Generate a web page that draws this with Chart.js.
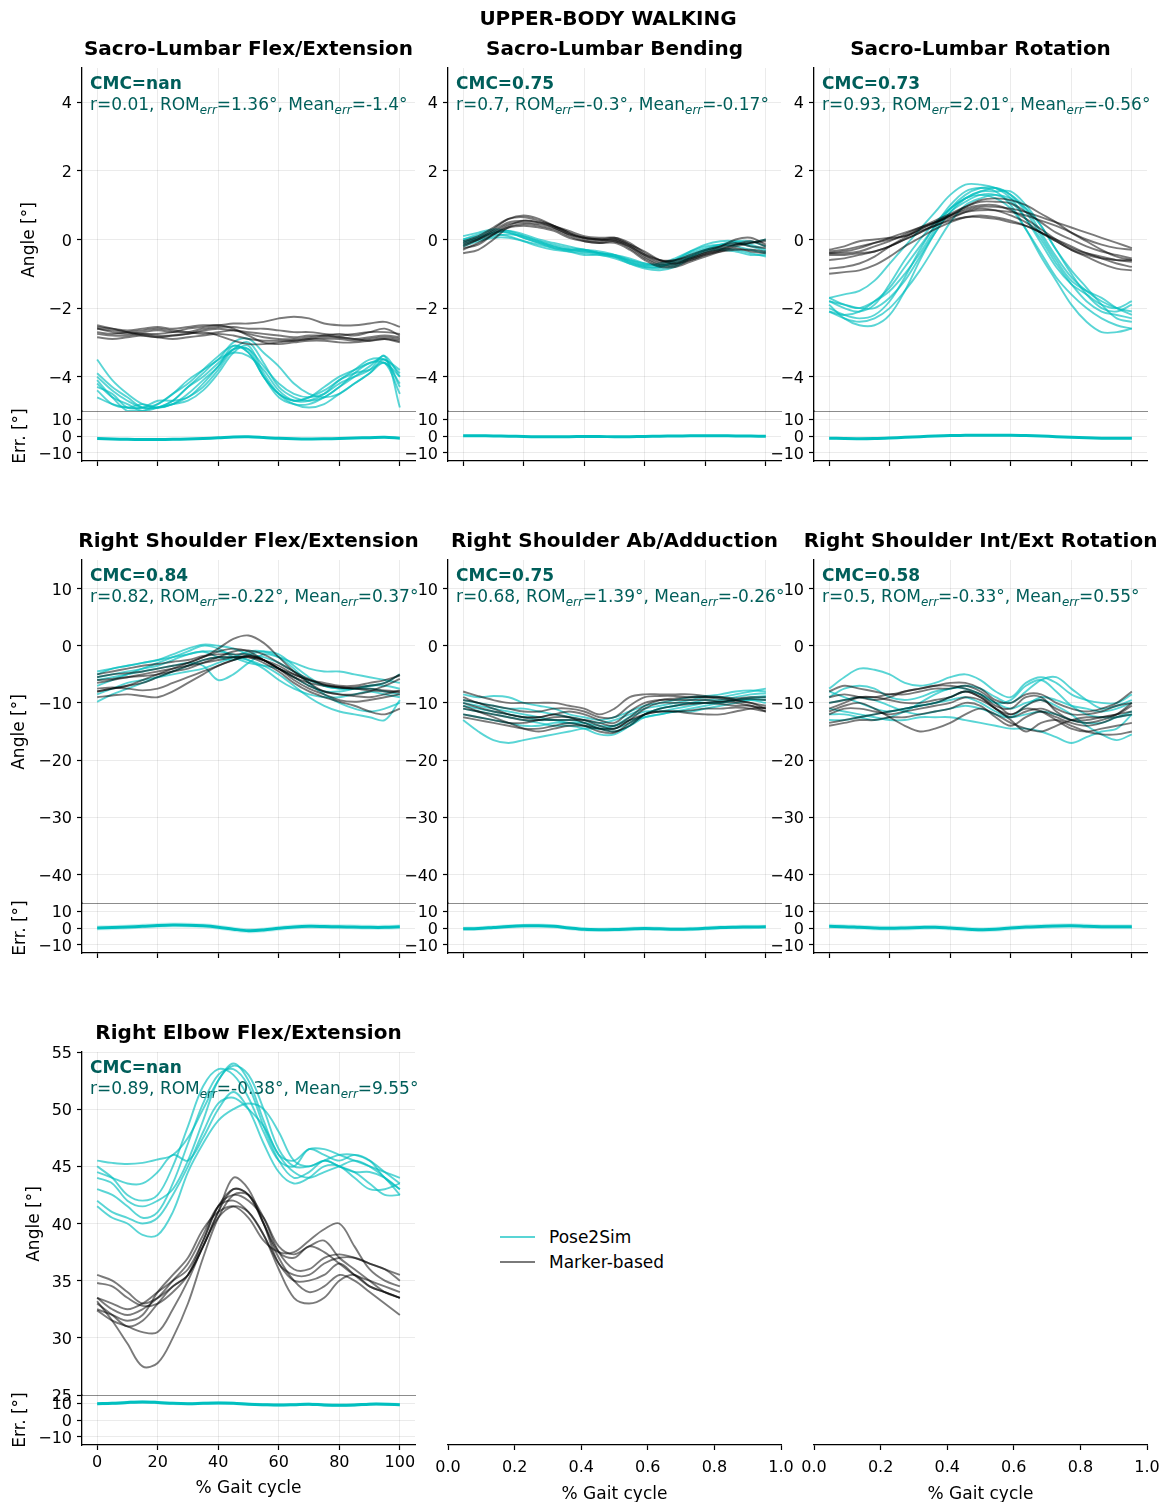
<!DOCTYPE html>
<html><head><meta charset="utf-8">
<script src="https://cdn.jsdelivr.net/npm/chart.js@4.4.0/dist/chart.umd.min.js"></script>
<style>
body{margin:0;background:#fff;width:1170px;height:1502px;position:relative;overflow:hidden;font-family:'DejaVu Sans',sans-serif;}
canvas{position:absolute;}
.t{position:absolute;white-space:nowrap;color:#000;}
.ann{color:rgb(0,94,90);font-size:17px;}
.sb{font-size:0.7em;font-style:italic;position:relative;top:0.3em;}
</style></head><body>
<script>
// ---------------- DATA ----------------
const PCT = [0,5,10,15,20,25,30,35,40,45,50,55,60,65,70,75,80,85,90,95,100];
const X_TICKS = [0,20,40,60,80,100];
const X_TICKS_EMPTY = [0,0.2,0.4,0.6,0.8,1.0];
const Y_TICKS_ROW1 = [-4,-2,0,2,4];
const Y_TICKS_ROW2 = [-40,-30,-20,-10,0,10];
const Y_TICKS_ROW3 = [25,30,35,40,45,50,55];
const Y_TICKS_ERR = [-10,0,10];

const TITLES = ['Sacro-Lumbar Flex/Extension','Sacro-Lumbar Bending','Sacro-Lumbar Rotation',
  'Right Shoulder Flex/Extension','Right Shoulder Ab/Adduction','Right Shoulder Int/Ext Rotation',
  'Right Elbow Flex/Extension'];
const CMC = ['nan','0.75','0.73','0.84','0.75','0.58','nan'];
const R_VALS = ['0.01','0.7','0.93','0.82','0.68','0.5','0.89'];
const ROM_ERR = ['1.36','-0.3','2.01','-0.22','1.39','-0.33','-0.38'];
const MEAN_ERR = ['-1.4','-0.17','-0.56','0.37','-0.26','0.55','9.55'];
const ERR_SD = [0.5,0.4,0.6,1.5,1.3,1.5,1.0];

// Sacro-Lumbar Flex/Extension
const slfePose = [
 [-3.5,-4.1,-4.5,-4.8,-4.9,-4.8,-4.5,-4.1,-3.7,-3.1,-3.3,-4.0,-4.5,-4.7,-4.6,-4.4,-4.1,-3.8,-3.5,-3.5,-3.8],
 [-4.0,-4.4,-4.7,-4.9,-4.9,-4.8,-4.6,-4.3,-3.8,-3.2,-3.0,-3.6,-4.3,-4.6,-4.7,-4.6,-4.3,-4.0,-3.7,-3.4,-4.0],
 [-4.2,-4.6,-4.8,-5.0,-4.9,-4.7,-4.3,-4.0,-3.6,-3.2,-3.2,-3.7,-4.2,-4.5,-4.6,-4.5,-4.2,-4.0,-3.8,-3.4,-4.9],
 [-4.3,-4.5,-4.9,-4.9,-4.8,-4.5,-4.1,-3.8,-3.5,-3.0,-2.9,-3.3,-3.7,-4.2,-4.5,-4.6,-4.5,-4.2,-3.9,-3.6,-4.2],
 [-4.4,-4.8,-4.9,-4.8,-4.9,-4.8,-4.7,-4.4,-3.9,-3.3,-3.1,-3.9,-4.5,-4.8,-4.9,-4.8,-4.5,-4.2,-3.9,-3.5,-4.3],
 [-4.1,-4.6,-5.0,-5.0,-4.8,-4.5,-4.2,-3.8,-3.4,-3.1,-3.3,-4.0,-4.6,-4.8,-4.8,-4.6,-4.3,-3.9,-3.6,-3.6,-4.0],
 [-4.6,-4.8,-4.9,-4.9,-4.7,-4.7,-4.6,-4.2,-3.7,-3.2,-3.2,-4.0,-4.5,-4.7,-4.6,-4.3,-4.0,-3.8,-3.6,-3.5,-3.9],
 [-3.9,-4.3,-4.6,-4.9,-4.9,-4.7,-4.3,-3.9,-3.5,-3.3,-3.4,-3.8,-4.4,-4.7,-4.7,-4.5,-4.1,-3.9,-3.8,-3.6,-4.5]];
const slfeMark = [
 [-2.55,-2.6,-2.65,-2.6,-2.55,-2.6,-2.55,-2.5,-2.5,-2.45,-2.45,-2.4,-2.3,-2.25,-2.3,-2.45,-2.5,-2.5,-2.45,-2.4,-2.55],
 [-2.6,-2.7,-2.75,-2.7,-2.65,-2.7,-2.7,-2.6,-2.55,-2.55,-2.6,-2.6,-2.65,-2.7,-2.7,-2.75,-2.8,-2.75,-2.7,-2.7,-2.75],
 [-2.7,-2.75,-2.7,-2.65,-2.6,-2.65,-2.7,-2.75,-2.7,-2.65,-2.7,-2.75,-2.8,-2.85,-2.8,-2.8,-2.85,-2.9,-2.85,-2.8,-2.85],
 [-2.85,-2.9,-2.85,-2.8,-2.85,-2.9,-2.85,-2.8,-2.75,-2.8,-2.9,-2.95,-2.95,-2.95,-2.9,-2.9,-2.9,-2.95,-2.9,-2.85,-2.9],
 [-2.6,-2.65,-2.7,-2.75,-2.8,-2.8,-2.75,-2.7,-2.8,-2.95,-3.05,-3.05,-3.0,-2.95,-2.9,-2.85,-2.85,-2.9,-2.95,-2.9,-2.95],
 [-2.5,-2.6,-2.7,-2.8,-2.85,-2.8,-2.75,-2.65,-2.6,-2.65,-2.75,-2.85,-2.9,-2.9,-2.85,-2.8,-2.75,-2.8,-2.7,-2.6,-2.8],
 [-2.75,-2.8,-2.8,-2.75,-2.75,-2.7,-2.6,-2.55,-2.5,-2.6,-2.8,-3.0,-3.05,-3.0,-2.95,-2.95,-3.0,-3.0,-2.95,-2.9,-3.0]];
const slfeErr = [-1.5,-1.8,-2.0,-2.1,-2.1,-2.0,-1.8,-1.5,-1.1,-0.6,-0.5,-0.9,-1.4,-1.7,-1.8,-1.7,-1.5,-1.2,-1.0,-0.8,-1.3];

// Sacro-Lumbar Bending
const slbPose = [
 [0.0,0.15,0.25,0.2,0.05,-0.1,-0.2,-0.3,-0.35,-0.4,-0.5,-0.65,-0.75,-0.7,-0.55,-0.35,-0.2,-0.15,-0.2,-0.3,-0.4],
 [-0.15,0.0,0.1,0.15,0.1,-0.05,-0.2,-0.3,-0.35,-0.4,-0.45,-0.6,-0.75,-0.8,-0.65,-0.45,-0.3,-0.2,-0.15,-0.1,0.0],
 [-0.05,0.05,0.15,0.1,-0.05,-0.2,-0.3,-0.35,-0.4,-0.45,-0.55,-0.7,-0.8,-0.85,-0.75,-0.5,-0.3,-0.25,-0.3,-0.4,-0.5],
 [0.1,0.2,0.3,0.25,0.1,-0.05,-0.15,-0.25,-0.3,-0.35,-0.45,-0.65,-0.8,-0.8,-0.6,-0.35,-0.15,-0.05,-0.05,-0.15,-0.3],
 [-0.2,-0.05,0.05,0.05,-0.05,-0.15,-0.25,-0.3,-0.3,-0.4,-0.5,-0.7,-0.85,-0.9,-0.8,-0.55,-0.35,-0.3,-0.35,-0.45,-0.45],
 [0.0,0.1,0.2,0.2,0.05,-0.1,-0.25,-0.35,-0.45,-0.45,-0.5,-0.6,-0.7,-0.75,-0.6,-0.4,-0.25,-0.15,-0.1,-0.2,-0.35],
 [-0.1,0.05,0.2,0.25,0.15,0.0,-0.1,-0.2,-0.3,-0.4,-0.45,-0.55,-0.7,-0.75,-0.7,-0.5,-0.3,-0.15,-0.05,-0.05,-0.2]];
const slbMark = [
 [-0.1,0.05,0.3,0.6,0.7,0.6,0.4,0.25,0.1,0.05,0.05,-0.15,-0.45,-0.65,-0.6,-0.45,-0.3,-0.2,-0.1,-0.2,-0.25],
 [-0.2,0.0,0.25,0.5,0.55,0.5,0.35,0.15,0.0,-0.05,0.0,-0.2,-0.5,-0.7,-0.7,-0.55,-0.4,-0.25,-0.15,-0.1,-0.05],
 [-0.4,-0.3,0.0,0.35,0.45,0.4,0.3,0.1,-0.05,-0.1,-0.05,-0.25,-0.55,-0.75,-0.75,-0.6,-0.45,-0.35,-0.3,-0.3,-0.35],
 [-0.15,0.0,0.2,0.45,0.5,0.45,0.35,0.15,0.05,0.0,0.05,-0.1,-0.4,-0.6,-0.65,-0.55,-0.4,-0.3,-0.2,-0.1,0.0],
 [-0.3,-0.1,0.15,0.35,0.4,0.35,0.25,0.05,-0.05,-0.1,-0.1,-0.3,-0.6,-0.8,-0.8,-0.65,-0.5,-0.35,-0.25,-0.35,-0.4],
 [-0.05,0.1,0.35,0.6,0.65,0.55,0.4,0.2,0.05,0.0,-0.05,-0.2,-0.45,-0.6,-0.6,-0.5,-0.35,-0.2,0.0,0.05,-0.15],
 [-0.25,-0.15,0.15,0.4,0.55,0.5,0.4,0.2,0.05,0.0,0.0,-0.15,-0.35,-0.6,-0.7,-0.6,-0.45,-0.3,-0.15,-0.05,-0.2]];
const slbErr = [0.2,0.15,0.05,-0.1,-0.3,-0.45,-0.45,-0.4,-0.35,-0.35,-0.4,-0.4,-0.3,-0.1,0.0,0.1,0.15,0.1,0.05,-0.05,-0.1];

// Sacro-Lumbar Rotation
const slrPose = [
 [-1.7,-1.6,-1.5,-1.2,-0.7,-0.2,0.3,0.8,1.3,1.6,1.6,1.5,1.2,0.6,-0.1,-0.8,-1.3,-1.6,-1.9,-2.0,-1.8],
 [-1.8,-2.0,-2.1,-1.9,-1.3,-0.6,0.0,0.5,0.9,1.2,1.4,1.5,1.3,0.8,0.1,-0.6,-1.2,-1.5,-1.7,-2.0,-2.2],
 [-2.0,-2.2,-2.3,-2.2,-1.8,-1.1,-0.3,0.4,0.9,1.2,1.3,1.2,0.9,0.3,-0.4,-1.1,-1.6,-2.0,-2.3,-2.5,-2.6],
 [-1.9,-2.3,-2.5,-2.5,-2.2,-1.5,-0.6,0.2,0.8,1.1,1.3,1.3,1.1,0.6,0.0,-0.7,-1.3,-1.8,-2.1,-2.2,-2.3],
 [-2.1,-2.2,-2.1,-1.8,-1.4,-0.8,-0.2,0.4,1.0,1.4,1.5,1.4,1.0,0.3,-0.5,-1.2,-1.9,-2.4,-2.7,-2.7,-2.6],
 [-1.7,-1.9,-2.0,-1.8,-1.5,-1.0,-0.4,0.3,0.9,1.3,1.5,1.5,1.3,0.9,0.2,-0.5,-1.1,-1.5,-1.8,-2.0,-2.1],
 [-2.1,-2.3,-2.4,-2.3,-2.0,-1.5,-0.9,-0.2,0.5,1.0,1.2,1.3,1.2,0.9,0.4,-0.3,-1.0,-1.6,-2.0,-2.1,-1.9],
 [-1.8,-1.9,-2.0,-2.0,-1.7,-1.2,-0.5,0.2,0.8,1.2,1.4,1.4,1.4,1.0,0.4,-0.3,-0.9,-1.4,-1.9,-2.3,-2.4]];
const slrMark = [
 [-0.35,-0.3,-0.2,-0.1,0.0,0.1,0.3,0.5,0.7,0.85,0.95,0.95,0.9,0.8,0.65,0.5,0.35,0.2,0.05,-0.1,-0.25],
 [-0.4,-0.4,-0.35,-0.2,-0.05,0.15,0.35,0.55,0.75,0.95,1.1,1.1,1.05,0.8,0.5,0.2,0.0,-0.2,-0.35,-0.45,-0.55],
 [-0.45,-0.45,-0.4,-0.35,-0.2,0.0,0.2,0.4,0.6,0.8,0.9,0.85,0.7,0.5,0.2,-0.05,-0.3,-0.45,-0.55,-0.6,-0.65],
 [-0.85,-0.8,-0.7,-0.5,-0.2,0.05,0.3,0.5,0.7,0.9,1.0,1.0,0.85,0.6,0.3,0.0,-0.25,-0.4,-0.5,-0.6,-0.6],
 [-1.0,-0.95,-0.9,-0.75,-0.5,-0.2,0.05,0.3,0.5,0.65,0.7,0.65,0.55,0.4,0.2,0.0,-0.2,-0.4,-0.55,-0.7,-0.8],
 [-0.3,-0.2,-0.05,0.0,0.05,0.1,0.25,0.4,0.55,0.65,0.65,0.6,0.5,0.4,0.2,-0.05,-0.3,-0.5,-0.7,-0.85,-0.9],
 [-0.6,-0.55,-0.45,-0.35,-0.2,0.0,0.2,0.45,0.7,0.95,1.15,1.2,1.15,1.0,0.75,0.5,0.2,-0.05,-0.3,-0.5,-0.6],
 [-0.4,-0.35,-0.25,-0.1,0.05,0.2,0.35,0.5,0.65,0.8,0.85,0.85,0.8,0.7,0.55,0.4,0.2,0.0,-0.15,-0.25,-0.3]];
const slrErr = [-1.3,-1.5,-1.6,-1.5,-1.2,-0.8,-0.4,0.0,0.3,0.4,0.5,0.5,0.5,0.3,0.0,-0.4,-0.8,-1.1,-1.3,-1.4,-1.4];

// Right Shoulder Flex/Extension
const rsfePose = [
 [-5.0,-4.0,-3.5,-3.0,-2.5,-1.5,-0.5,0.2,0.0,-0.5,-1.5,-2.0,-3.0,-4.5,-6.0,-7.0,-7.5,-7.5,-7.0,-6.5,-5.0],
 [-9.8,-8.5,-7.5,-6.5,-5.5,-4.5,-3.5,-2.5,-2.0,-2.0,-2.5,-3.5,-5.0,-7.0,-9.0,-10.5,-11.5,-12.0,-12.5,-13.0,-9.5],
 [-6.0,-5.5,-5.0,-4.5,-4.0,-3.5,-3.0,-3.5,-6.0,-5.0,-3.0,-1.5,-2.0,-3.0,-4.0,-4.5,-4.5,-5.0,-5.5,-6.0,-6.5],
 [-7.0,-6.0,-5.0,-4.0,-3.5,-2.5,-1.5,-1.0,-1.0,-1.5,-2.5,-4.0,-6.0,-7.5,-8.5,-9.0,-9.0,-8.5,-8.0,-8.5,-9.0],
 [-8.5,-7.5,-6.5,-6.0,-5.5,-5.0,-4.5,-4.0,-3.0,-2.0,-1.0,-1.0,-2.0,-4.0,-6.5,-8.5,-10.0,-11.0,-11.5,-11.0,-10.0],
 [-5.5,-5.0,-4.5,-4.0,-3.0,-2.0,-1.0,0.0,-0.5,-2.0,-3.0,-3.5,-4.0,-5.5,-7.0,-8.0,-8.0,-7.5,-7.0,-7.0,-7.5],
 [-4.5,-4.0,-3.5,-3.0,-2.5,-2.0,-1.5,-1.0,-2.0,-2.5,-1.5,-1.0,-1.5,-3.5,-5.5,-7.0,-7.5,-7.5,-7.5,-8.0,-8.5]];
const rsfeMark = [
 [-8.0,-7.5,-7.0,-6.0,-5.0,-4.0,-3.0,-2.0,-0.5,1.2,1.8,0.5,-2.0,-4.5,-6.5,-8.0,-8.5,-8.5,-8.0,-7.0,-5.8],
 [-5.0,-4.5,-4.0,-3.5,-3.2,-2.8,-2.5,-1.8,-1.5,-1.5,-1.5,-2.5,-4.0,-5.5,-6.5,-7.0,-7.3,-7.3,-7.0,-6.5,-5.0],
 [-6.0,-5.8,-5.5,-5.3,-5.0,-4.5,-4.0,-3.0,-2.0,-1.0,-0.8,-1.5,-3.0,-4.5,-5.8,-6.8,-7.2,-7.5,-7.5,-7.8,-8.0],
 [-7.5,-7.3,-7.5,-7.8,-7.5,-6.5,-5.5,-4.5,-3.5,-2.5,-1.8,-2.5,-4.0,-6.0,-7.5,-8.5,-9.5,-9.8,-9.5,-9.0,-8.5],
 [-9.0,-8.7,-8.5,-8.8,-9.0,-8.0,-6.5,-5.0,-3.5,-2.5,-2.0,-3.0,-4.5,-6.5,-8.0,-9.0,-9.8,-10.5,-11.5,-12.0,-11.0],
 [-6.5,-6.0,-5.5,-5.0,-4.5,-4.0,-3.5,-3.0,-2.5,-2.0,-2.0,-2.5,-3.5,-5.0,-6.0,-6.8,-7.3,-7.5,-7.8,-8.0,-8.2],
 [-5.5,-5.0,-4.8,-4.5,-4.0,-3.5,-3.0,-2.0,-1.0,-0.5,-1.0,-2.5,-4.0,-5.0,-6.0,-6.5,-7.0,-7.0,-6.5,-6.0,-5.2],
 [-8.0,-7.5,-7.0,-6.5,-5.5,-4.5,-3.5,-2.5,-2.0,-2.0,-1.8,-2.5,-4.0,-5.5,-7.0,-8.0,-8.5,-8.8,-9.0,-8.5,-7.8]];
const rsfeErr = [0.0,0.3,0.6,1.0,1.5,1.8,1.7,1.3,0.5,-0.7,-1.6,-1.2,-0.2,0.6,1.0,0.9,0.7,0.6,0.4,0.4,0.8];

// Right Shoulder Ab/Adduction
const rsaaPose = [
 [-8.5,-9.0,-8.8,-9.0,-10.0,-10.5,-11.0,-12.0,-12.5,-13.0,-12.5,-11.5,-10.5,-10.0,-9.5,-9.0,-8.8,-8.5,-8.0,-7.8,-8.0],
 [-13.0,-15.0,-16.5,-17.0,-16.5,-16.0,-15.5,-15.0,-14.5,-14.5,-14.5,-13.5,-12.0,-11.0,-10.5,-10.0,-9.5,-9.5,-9.0,-8.5,-8.3],
 [-10.0,-10.5,-11.0,-11.5,-12.0,-12.5,-13.0,-13.0,-13.5,-14.5,-15.0,-14.0,-12.5,-12.0,-11.5,-11.5,-11.0,-10.5,-10.0,-9.5,-9.5],
 [-11.0,-11.5,-12.0,-12.5,-13.0,-13.5,-14.0,-14.0,-14.5,-15.5,-15.5,-14.0,-12.0,-11.0,-10.5,-10.0,-10.0,-10.0,-9.5,-9.0,-8.8],
 [-9.5,-10.0,-10.5,-11.0,-11.0,-11.5,-12.0,-12.5,-13.0,-13.5,-13.0,-12.0,-11.0,-10.5,-10.0,-9.5,-9.0,-9.0,-8.5,-8.0,-7.5],
 [-12.0,-12.5,-13.0,-13.5,-14.0,-14.0,-13.5,-13.5,-14.0,-14.5,-14.0,-12.5,-11.5,-11.5,-11.0,-10.5,-10.0,-9.8,-9.5,-9.3,-9.0],
 [-10.5,-11.0,-11.5,-12.0,-12.5,-13.0,-13.0,-13.5,-13.5,-14.0,-14.0,-13.0,-12.5,-12.0,-11.5,-11.0,-10.5,-10.0,-9.5,-9.5,-10.0]];
const rsaaMark = [
 [-8.0,-8.8,-9.5,-10.0,-10.0,-10.0,-10.0,-10.5,-11.0,-12.0,-11.0,-9.0,-8.5,-8.5,-8.5,-8.5,-8.8,-9.0,-9.5,-10.0,-10.5],
 [-9.0,-10.0,-10.5,-11.0,-11.5,-11.5,-11.0,-11.0,-11.5,-12.5,-12.5,-10.5,-9.0,-8.8,-8.8,-9.0,-9.0,-9.0,-9.2,-9.0,-9.0],
 [-10.0,-10.8,-11.5,-12.0,-12.5,-12.5,-12.0,-11.5,-12.0,-13.0,-13.5,-11.5,-10.0,-9.5,-9.5,-9.5,-9.5,-9.8,-10.0,-10.5,-11.0],
 [-11.0,-11.5,-12.0,-12.5,-13.0,-13.0,-12.5,-12.5,-13.0,-14.0,-14.5,-13.0,-11.0,-10.0,-10.0,-10.0,-10.0,-10.2,-10.5,-10.5,-11.5],
 [-12.5,-13.0,-13.5,-14.0,-14.5,-14.5,-14.0,-13.5,-14.0,-15.0,-15.2,-13.5,-12.0,-11.5,-11.5,-11.3,-11.0,-11.0,-10.8,-11.0,-11.5],
 [-10.5,-11.5,-12.5,-13.5,-14.5,-15.0,-14.5,-14.0,-14.0,-14.5,-14.5,-13.0,-12.0,-11.5,-11.5,-11.8,-12.0,-12.0,-11.5,-11.0,-10.8],
 [-9.5,-10.0,-11.0,-12.0,-12.5,-12.5,-12.0,-12.5,-13.5,-14.5,-15.0,-14.0,-12.0,-11.0,-10.5,-10.2,-10.0,-9.8,-9.5,-9.3,-9.5],
 [-12.0,-12.5,-13.0,-13.5,-13.5,-13.0,-13.0,-13.0,-13.0,-13.5,-14.0,-12.5,-10.5,-9.5,-9.2,-9.0,-9.0,-9.3,-9.7,-10.0,-11.0]];
const rsaaErr = [-0.5,-0.3,0.3,0.9,1.3,1.4,1.0,0.0,-0.8,-1.0,-0.9,-0.6,-0.3,-0.5,-0.7,-0.6,-0.2,0.3,0.5,0.6,0.7];

// Right Shoulder Int/Ext Rotation
const rsrPose = [
 [-7.5,-5.5,-4.0,-4.2,-5.0,-6.5,-7.0,-6.5,-5.5,-5.0,-6.0,-8.0,-9.0,-6.5,-5.5,-6.5,-8.5,-9.5,-10.0,-10.0,-8.5],
 [-9.0,-7.5,-7.0,-7.5,-9.0,-9.5,-9.0,-8.0,-7.5,-7.0,-7.5,-9.0,-10.0,-8.0,-6.0,-5.5,-7.5,-9.5,-11.0,-10.5,-9.5],
 [-12.0,-12.0,-12.5,-13.0,-12.5,-11.5,-10.0,-8.5,-7.5,-7.5,-8.5,-10.0,-9.5,-7.0,-6.0,-8.0,-10.5,-12.0,-12.5,-12.5,-12.0],
 [-11.0,-11.5,-12.0,-12.5,-13.0,-13.0,-12.5,-12.5,-12.5,-13.0,-13.5,-14.0,-14.5,-14.5,-15.0,-16.0,-17.0,-16.0,-15.0,-14.5,-12.0],
 [-8.0,-9.0,-10.0,-11.0,-11.5,-11.0,-10.5,-10.0,-9.0,-8.0,-8.5,-10.0,-11.0,-10.0,-9.5,-10.5,-12.0,-14.0,-15.5,-16.5,-15.5],
 [-10.0,-9.5,-9.0,-9.5,-10.5,-11.5,-12.0,-11.5,-11.0,-10.5,-11.0,-12.0,-12.5,-10.5,-9.0,-9.5,-10.5,-11.0,-11.5,-11.0,-10.0],
 [-13.0,-13.0,-12.5,-12.0,-11.5,-11.0,-10.5,-10.0,-9.5,-9.0,-10.0,-11.5,-12.5,-12.0,-11.5,-12.0,-13.0,-13.5,-13.5,-12.5,-11.5]];
const rsrMark = [
 [-8.0,-7.0,-7.5,-8.0,-8.5,-8.0,-7.5,-7.0,-6.5,-6.5,-7.5,-9.5,-10.0,-8.5,-8.5,-10.0,-11.0,-11.5,-11.0,-10.0,-8.0],
 [-10.0,-9.5,-9.0,-9.0,-8.5,-8.5,-8.0,-7.5,-7.5,-7.0,-8.0,-10.0,-12.0,-10.5,-9.5,-11.0,-12.0,-12.0,-11.5,-10.5,-10.0],
 [-12.0,-11.0,-11.0,-11.5,-12.0,-11.5,-11.0,-10.5,-10.0,-9.0,-9.5,-11.0,-12.5,-11.5,-11.0,-12.0,-13.0,-13.0,-12.5,-12.0,-11.5],
 [-14.0,-13.5,-13.0,-13.0,-12.5,-12.5,-12.0,-11.5,-11.0,-10.0,-10.5,-12.5,-14.0,-12.5,-11.5,-12.5,-13.5,-14.0,-13.5,-12.5,-12.0],
 [-11.5,-10.5,-10.0,-11.0,-12.5,-14.0,-15.0,-14.5,-13.5,-12.0,-11.0,-12.0,-13.5,-14.5,-15.0,-14.0,-13.0,-12.5,-12.5,-12.0,-10.5],
 [-13.5,-13.0,-12.5,-12.0,-11.5,-11.0,-10.5,-10.0,-9.0,-8.0,-9.0,-11.0,-13.0,-15.0,-13.5,-13.0,-14.0,-15.0,-15.5,-15.5,-15.0],
 [-9.0,-8.5,-9.0,-9.5,-9.0,-8.0,-7.5,-7.0,-7.0,-7.5,-8.5,-10.5,-11.0,-9.0,-9.0,-11.5,-13.0,-13.5,-13.0,-12.0,-10.0],
 [-11.0,-10.0,-9.0,-9.0,-9.5,-10.0,-10.0,-9.5,-9.0,-8.0,-9.0,-11.0,-12.0,-11.0,-11.5,-13.0,-14.5,-15.0,-14.5,-14.0,-13.5]];
const rsrErr = [1.0,0.8,0.4,0.0,-0.2,0.0,0.3,0.5,0.0,-0.6,-1.0,-0.8,0.0,0.6,0.9,1.2,1.3,1.0,0.8,0.7,0.8];

// Right Elbow Flex/Extension
const refePose = [
 [45.5,45.3,45.2,45.3,45.6,46.0,47.5,50.0,52.5,54.0,52.5,49.0,46.0,45.5,46.5,46.5,46.0,45.5,45.0,44.5,44.0],
 [44.0,43.5,42.0,41.5,42.0,43.0,45.5,49.0,52.5,53.8,53.0,50.0,46.5,45.0,45.0,45.5,46.0,46.0,45.5,44.5,43.5],
 [43.0,42.5,41.5,40.5,41.0,43.5,47.0,50.5,53.0,53.5,52.0,48.5,45.5,44.0,44.5,45.5,45.0,44.5,44.5,44.0,43.0],
 [42.0,41.0,40.5,40.0,40.5,42.5,45.0,48.0,50.5,51.0,50.0,48.5,46.0,44.5,44.0,44.5,45.0,45.5,45.0,44.0,42.5],
 [41.5,40.5,40.0,39.0,39.0,41.0,44.5,47.0,49.0,50.0,50.5,50.0,48.0,45.5,45.0,45.5,45.0,44.5,43.5,42.5,42.5],
 [44.5,44.0,43.5,43.5,44.5,46.0,45.5,47.5,50.0,51.5,50.0,47.0,44.5,43.5,44.0,45.0,45.0,44.0,43.0,43.0,43.5],
 [45.0,44.0,42.5,42.0,42.5,45.0,48.5,52.0,53.5,53.0,51.0,48.0,45.5,45.0,46.5,46.0,45.5,46.0,45.5,44.0,43.0]];
const refeMark = [
 [35.5,35.0,34.0,33.0,33.5,34.5,35.5,38.0,41.0,43.0,42.5,40.0,37.5,37.0,38.0,37.5,36.5,35.5,35.0,34.5,34.0],
 [34.8,34.5,33.5,32.8,33.0,34.0,35.5,38.5,41.5,42.5,42.0,40.5,38.0,37.3,38.0,38.5,37.0,36.0,35.0,34.0,33.5],
 [33.5,33.0,32.5,33.0,34.0,35.0,36.0,38.5,41.5,43.0,42.5,40.0,36.5,35.5,35.5,36.5,37.0,37.0,36.5,36.0,35.0],
 [33.2,31.5,29.5,27.5,27.8,30.0,33.0,37.0,40.5,42.5,42.5,40.5,37.5,36.0,36.0,37.0,37.3,37.0,36.5,36.0,35.5],
 [32.4,31.5,31.0,30.5,30.5,32.5,35.0,38.0,40.5,41.5,41.0,39.0,36.0,33.5,33.0,33.5,35.0,35.5,34.5,34.0,33.5],
 [33.0,32.0,31.0,31.5,33.0,34.5,35.5,38.0,41.0,44.0,43.0,40.0,37.0,35.0,34.0,34.5,35.5,35.0,34.0,33.0,32.0],
 [33.5,32.5,32.0,32.5,33.5,35.0,36.5,39.0,41.5,42.0,41.0,39.0,36.5,35.0,35.0,35.5,36.5,35.5,34.5,34.0,33.5],
 [32.5,32.0,31.5,32.0,34.0,35.5,37.0,39.5,41.0,41.5,40.5,38.5,37.5,37.5,38.5,39.5,40.0,38.0,36.0,35.0,34.5]];
const refeErr = [9.8,10.0,10.5,10.8,10.5,10.0,9.8,10.0,10.2,10.0,9.5,9.2,9.0,9.2,9.5,9.0,8.8,9.0,9.5,9.5,9.2];

// ---------------- LAYOUT / STYLE ----------------
const COLS = [82,448,814], AXW = 333;
const ROWS = [68,560,1052], MAINH = 343, ERRH = 50;
const YW = 60, PADT = 18, PADR = 24, PADB = 18;
const GRID = 'rgba(0,0,0,0.08)';
const POSE_C = 'rgba(0,190,190,0.65)';
const MARK_C = 'rgba(0,0,0,0.52)';
const ERR_C = 'rgb(0,191,191)';
const BAND_C = 'rgba(0,191,191,0.22)';
const TXT_C = 'rgb(0,94,90)';
const TFONT = {family:'DejaVu Sans', size:16};

const PANELS = [
 {pose:slfePose, mark:slfeMark, err:slfeErr, yr:[-5,5], yt:Y_TICKS_ROW1, col:0, row:0},
 {pose:slbPose,  mark:slbMark,  err:slbErr,  yr:[-5,5], yt:Y_TICKS_ROW1, col:1, row:0},
 {pose:slrPose,  mark:slrMark,  err:slrErr,  yr:[-5,5], yt:Y_TICKS_ROW1, col:2, row:0},
 {pose:rsfePose, mark:rsfeMark, err:rsfeErr, yr:[-45,15], yt:Y_TICKS_ROW2, col:0, row:1},
 {pose:rsaaPose, mark:rsaaMark, err:rsaaErr, yr:[-45,15], yt:Y_TICKS_ROW2, col:1, row:1},
 {pose:rsrPose,  mark:rsrMark,  err:rsrErr,  yr:[-45,15], yt:Y_TICKS_ROW2, col:2, row:1},
 {pose:refePose, mark:refeMark, err:refeErr, yr:[25,55], yt:Y_TICKS_ROW3, col:0, row:2}
];

Chart.defaults.font.family = 'DejaVu Sans';
Chart.defaults.color = '#000';

function fmtMinus(v){ return v < 0 ? '\u2212' + Math.abs(v) : String(v); }

function makeCanvas(left, top, w, h){
  const c = document.createElement('canvas');
  c.width = w; c.height = h;
  c.style.left = left + 'px'; c.style.top = top + 'px';
  c.style.width = w + 'px'; c.style.height = h + 'px';
  document.body.appendChild(c);
  return c.getContext('2d');
}

function yScale(min, max, ticks){
  return {type:'linear', min, max,
    afterBuildTicks: s => { s.ticks = ticks.map(v => ({value:v})); },
    afterFit: s => { s.width = YW; },
    ticks:{font:TFONT, color:'#000', padding:5, labelOffset:2, callback:fmtMinus, autoSkip:false},
    grid:{color:GRID, lineWidth:1, tickColor:'#000', tickLength:5, tickWidth:1.2},
    border:{color:'#000', width:1.3}
  };
}
function xScale(ticks, min, max, mode){
  // mode: 'main' | 'err' | 'errLabel' | 'empty'
  const showLabels = (mode === 'errLabel' || mode === 'empty');
  return {type:'linear', min, max,
    afterBuildTicks: s => { s.ticks = ticks.map(v => ({value:v})); },
    afterFit: s => { s.height = mode === 'main' ? 0 : (showLabels ? 40 : PADB); },
    ticks:{display:showLabels, font:TFONT, color:'#000', padding: mode === 'empty' ? 8 : 3,
      maxRotation:0, autoSkip:false,
      callback: v => mode === 'empty' ? v.toFixed(1) : String(v)},
    grid: mode === 'main' ? {color:GRID, drawTicks:false}
        : {color:GRID, drawOnChartArea: mode !== 'empty', tickColor:'#000', tickLength:5, tickWidth:1.2},
    border: mode === 'main' ? {display:true, color:'#8c8c8c', width:1} : {color:'#000', width:1.3}
  };
}
function series(arr){ return PCT.map((x,i) => ({x, y:arr[i]})); }
function lineDs(arr, color, w){
  return {data:series(arr), borderColor:color, borderWidth:w, pointRadius:0, tension:0.35, fill:false};
}
const baseOpts = {responsive:false, animation:false, events:[],
  plugins:{legend:{display:false}, tooltip:{enabled:false}}};

function div(html, cls, style){
  const d = document.createElement('div');
  d.className = 't ' + (cls||'');
  d.innerHTML = html;
  Object.assign(d.style, style);
  document.body.appendChild(d);
  return d;
}

PANELS.forEach((p, k) => {
  const axL = COLS[p.col], mainT = ROWS[p.row], errT = mainT + MAINH;
  // main chart
  const ds = [];
  p.mark.forEach(a => ds.push(lineDs(a, MARK_C, 1.9)));
  p.pose.forEach(a => ds.push(lineDs(a, POSE_C, 1.9)));
  new Chart(makeCanvas(axL - YW, mainT - PADT, YW + AXW + PADR, PADT + MAINH + PADB), {
    type:'line', data:{datasets:ds},
    options:Object.assign({}, baseOpts, {
      layout:{padding:{top:PADT, right:PADR, bottom:PADB, left:0}},
      scales:{x:xScale(X_TICKS, -5, 105, 'main'), y:yScale(p.yr[0], p.yr[1], p.yt)}
    })
  });
  // error chart
  const lastRow = (p.row === 2);
  const sd = ERR_SD[k];
  const lo = p.err.map(v => v - sd), hi = p.err.map(v => v + sd);
  const eds = [
    {data:series(p.err), borderColor:ERR_C, borderWidth:3, pointRadius:0, tension:0.35, fill:false},
    {data:series(lo), borderWidth:0, borderColor:'rgba(0,0,0,0)', pointRadius:0, tension:0.35, fill:false},
    {data:series(hi), borderWidth:0, borderColor:'rgba(0,0,0,0)', pointRadius:0, tension:0.35, fill:'-1', backgroundColor:BAND_C}
  ];
  const xH = lastRow ? 40 : PADB;
  new Chart(makeCanvas(axL - YW, errT - PADT, YW + AXW + PADR, PADT + ERRH + xH), {
    type:'line', data:{datasets:eds},
    options:Object.assign({}, baseOpts, {
      layout:{padding:{top:PADT, right:PADR, bottom:0, left:0}},
      scales:{x:xScale(X_TICKS, -5, 105, lastRow ? 'errLabel' : 'err'), y:yScale(-15, 15, Y_TICKS_ERR)}
    })
  });
  // texts
  div(TITLES[k], '', {left:(axL + AXW/2)+'px', top:(mainT - 20)+'px', transform:'translate(-50%,-50%)',
      fontWeight:'bold', fontSize:'20px'});
  div('CMC=' + CMC[k], 'ann', {left:(axL + 8)+'px', top:(mainT + 15)+'px', transform:'translateY(-50%)', fontWeight:'bold'});
  div('r=' + R_VALS[k] + ', ROM<span class="sb">err</span>=' + ROM_ERR[k] + '°, Mean<span class="sb">err</span>=' + MEAN_ERR[k] + '°',
      'ann', {left:(axL + 8)+'px', top:(mainT + 36)+'px', transform:'translateY(-50%)'});
  if (p.col === 0){
    const ax = [28, 18, 33][p.row];
    div('Angle [°]', '', {left:ax+'px', top:(mainT + MAINH/2)+'px', transform:'translate(-50%,-50%) rotate(-90deg)', fontSize:'17px'});
    div('Err. [°]', '', {left:'19px', top:(errT + ERRH/2)+'px', transform:'translate(-50%,-50%) rotate(-90deg)', fontSize:'17px'});
  }
});

// empty bottom axes (columns 2 and 3)
[1,2].forEach(c => {
  const axL = COLS[c], bottom = ROWS[2] + MAINH + ERRH, top = bottom - 120;
  new Chart(makeCanvas(axL - YW, top - PADT, YW + AXW + PADR, PADT + 120 + 40), {
    type:'line', data:{datasets:[]},
    options:Object.assign({}, baseOpts, {
      layout:{padding:{top:PADT, right:PADR, bottom:0, left:YW}},
      scales:{x:xScale(X_TICKS_EMPTY, 0, 1, 'empty'), y:{display:false, min:0, max:1}}
    })
  });
  div('% Gait cycle', '', {left:(axL + AXW/2)+'px', top:'1493px', transform:'translate(-50%,-50%)', fontSize:'17px'});
});
div('% Gait cycle', '', {left:(COLS[0] + AXW/2)+'px', top:'1487px', transform:'translate(-50%,-50%)', fontSize:'17px'});

// suptitle
div('UPPER-BODY WALKING', '', {left:'608px', top:'18px', transform:'translate(-50%,-50%)', fontWeight:'bold', fontSize:'20px'});

// legend
const LEGEND = [['Pose2Sim', POSE_C], ['Marker-based', MARK_C]];
LEGEND.forEach((l, i) => {
  const y = 1237 + i*25;
  const ln = document.createElement('div');
  Object.assign(ln.style, {position:'absolute', left:'500px', top:(y-1)+'px', width:'35px', height:'2px', background:l[1]});
  document.body.appendChild(ln);
  div(l[0], '', {left:'549px', top:y+'px', transform:'translateY(-50%)', fontSize:'17px'});
});
</script>
</body></html>
